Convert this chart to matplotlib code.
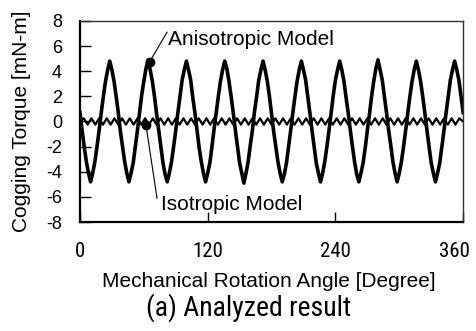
import numpy as np
import matplotlib.pyplot as plt
from matplotlib import font_manager
from matplotlib.transforms import ScaledTranslation

# values (every 2 degrees)
aniso_angle = np.arange(0, 361, 2)
aniso_torque = [
    0.7, -0.7, -2.0, -3.2, -4.1, -4.8, -4.1, -3.2, -2.0, -0.7, 0.7, 2.0, 3.2, 4.1, 4.8, 4.1, 3.2, 2.0,
    0.7, -0.8, -2.0, -3.2, -4.1, -4.8, -4.1, -3.3, -2.0, -0.7, 0.7, 2.1, 3.2, 4.2, 4.9, 4.1, 3.2, 2.0,
    0.6, -0.7, -2.0, -3.3, -4.2, -4.8, -4.1, -3.2, -2.0, -0.7, 0.7, 2.0, 3.3, 4.1, 4.8, 4.1, 3.3, 1.9,
    0.7, -0.7, -2.1, -3.2, -4.1, -4.8, -4.1, -3.3, -2.0, -0.6, 0.7, 2.0, 3.2, 4.1, 4.8, 4.2, 3.2, 2.0,
    0.7, -0.7, -2.0, -3.3, -4.1, -4.9, -4.1, -3.2, -1.9, -0.7, 0.8, 2.0, 3.3, 4.1, 4.8, 4.1, 3.2, 2.0,
    0.6, -0.8, -2.0, -3.2, -4.1, -4.8, -4.2, -3.3, -2.0, -0.7, 0.7, 2.0, 3.2, 4.1, 4.8, 4.1, 3.3, 2.0,
    0.7, -0.7, -2.0, -3.3, -4.1, -4.8, -4.1, -3.2, -2.0, -0.7, 0.7, 2.1, 3.3, 4.1, 4.8, 4.1, 3.2, 1.9,
    0.7, -0.7, -2.0, -3.2, -4.2, -4.8, -4.1, -3.3, -2.1, -0.7, 0.6, 2.0, 3.2, 4.2, 4.9, 4.1, 3.3, 2.0,
    0.7, -0.7, -1.9, -3.2, -4.1, -4.8, -4.1, -3.2, -2.0, -0.7, 0.7, 2.0, 3.2, 4.1, 4.8, 4.1, 3.2, 2.0,
    0.7, -0.7, -2.0, -3.3, -4.1, -4.8, -4.1, -3.3, -2.0, -0.7, 0.7, 2.0, 3.3, 4.1, 4.8, 4.1, 3.3, 2.0,
    0.7,
]
iso_angle = np.arange(0, 360.1, 3.6)
iso_torque = [
    0.0, 0.25, -0.25, 0.25, -0.25, 0.25, -0.25, 0.25, -0.25, 0.25,
    -0.25, 0.25, -0.25, 0.25, -0.25, 0.25, -0.25, 0.25, -0.25, 0.25,
    -0.25, 0.25, -0.25, 0.25, -0.25, 0.25, -0.25, 0.25, -0.25, 0.25,
    -0.25, 0.25, -0.25, 0.25, -0.25, 0.25, -0.25, 0.25, -0.25, 0.25,
    -0.25, 0.25, -0.25, 0.25, -0.25, 0.25, -0.25, 0.25, -0.25, 0.25,
    -0.25, 0.25, -0.25, 0.25, -0.25, 0.25, -0.25, 0.25, -0.25, 0.25,
    -0.25, 0.25, -0.25, 0.25, -0.25, 0.25, -0.25, 0.25, -0.25, 0.25,
    -0.25, 0.25, -0.25, 0.25, -0.25, 0.25, -0.25, 0.25, -0.25, 0.25,
    -0.25, 0.25, -0.25, 0.25, -0.25, 0.25, -0.25, 0.25, -0.25, 0.25,
    -0.25, 0.25, -0.25, 0.25, -0.25, 0.25, -0.25, 0.25, -0.25, 0.25,
    0.0,
]

x_ticks = [0, 120, 240, 360]
y_ticks = [-8, -6, -4, -2, 0, 2, 4, 6, 8]

# labelled points on the curves
aniso_mark = (65.5, 4.75)
iso_mark = (62.0, -0.28)


def pick_narrow():
    # look for a condensed face; fall back to plain Liberation Sans
    fonts = font_manager.fontManager.ttflist
    names = {f.name for f in fonts}
    for n in ['Liberation Sans Narrow', 'Roboto Condensed', 'Open Sans Condensed',
              'Noto Sans Condensed', 'DejaVu Sans Condensed']:
        if n in names:
            return {'family': n}, True
    for f in fonts:
        if f.name in ('DejaVu Sans', 'Noto Sans', 'Open Sans', 'Roboto') \
                and f.stretch in ('condensed', 'semi-condensed') and f.weight in (400, 'normal') \
                and f.style == 'normal':
            return {'family': f.name, 'stretch': f.stretch}, True
    return {'family': 'Liberation Sans'}, False


narrow, is_narrow = pick_narrow()

plt.rcParams['font.family'] = ['Liberation Sans', 'DejaVu Sans']

fig = plt.figure(figsize=(4.76, 3.31), dpi=100)
ax = fig.add_axes([0.168, 0.329, 0.805, 0.608])

ax.plot(aniso_angle, aniso_torque, color='black', lw=2.6)
ax.plot(iso_angle, iso_torque, color='black', lw=1.6)

ax.plot(*aniso_mark, 'o', color='black', ms=6)
ax.plot(*iso_mark, 'o', color='black', ms=6)
ax.plot([aniso_mark[0], 81.8], [aniso_mark[1], 7.1], color='black', lw=0.8)
ax.plot([iso_mark[0], 72.4], [iso_mark[1], -6.1], color='black', lw=0.8)
ax.text(82.5, 6.5, 'Anisotropic Model', fontsize=15, ha='left', va='center')
ax.text(76.0, -6.6, 'Isotropic Model', fontsize=15, ha='left', va='center')

ax.set_xlim(0, 360)
ax.set_ylim(-8, 8)
ax.set_xticks(x_ticks)
ax.set_yticks(y_ticks)
tick_size = 15 if is_narrow else 13.5
ax.set_xticklabels([str(v) for v in x_ticks], fontsize=tick_size, **narrow)
ax.set_yticklabels([str(v) for v in y_ticks], fontsize=13)
ax.tick_params(axis='y', direction='in', length=8, width=1, pad=13)
ax.tick_params(axis='x', direction='in', length=7, width=1, pad=14)

# last x label sits a little inside the figure edge
last = ax.get_xticklabels()[-1]
last.set_horizontalalignment('right')
last.set_transform(last.get_transform() + ScaledTranslation(7 / 100, 0, fig.dpi_scale_trans))

for side in ['left', 'bottom']:
    ax.spines[side].set_linewidth(1.6)
for side in ['top', 'right']:
    ax.spines[side].set_linewidth(1.0)
    ax.spines[side].set_color('#333333')

fig.text(0.565, 0.151, 'Mechanical Rotation Angle [Degree]', fontsize=15,
         ha='center', va='center')
fig.text(0.046, 0.634, 'Cogging Torque [mN-m]', fontsize=15, rotation=90,
         ha='center', va='center')
fig.text(0.523, 0.07, '(a) Analyzed result', fontsize=20 if is_narrow else 17.5,
         ha='center', va='center', **narrow)

fig.savefig('out.png', dpi=100)
